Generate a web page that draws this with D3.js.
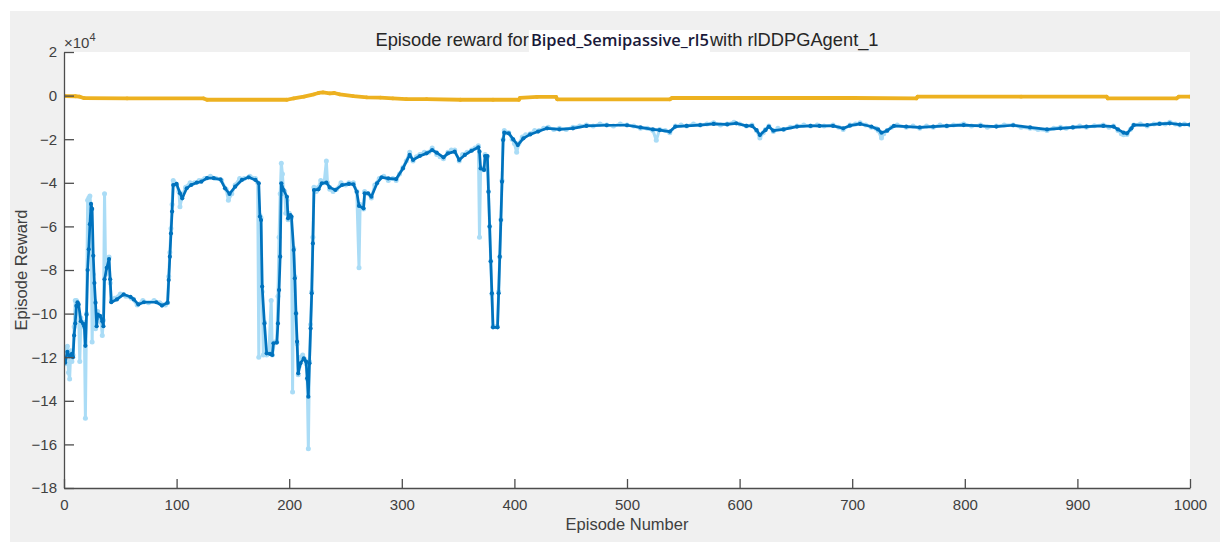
<!DOCTYPE html>
<html>
<head>
<meta charset="utf-8">
<script src="https://cdn.jsdelivr.net/npm/d3@7/dist/d3.min.js"></script>
<style>
  html, body { margin: 0; padding: 0; background: #ffffff; }
  svg { display: block; }
  text { font-family: "Liberation Sans", Arial, Helvetica, sans-serif; }
</style>
</head>
<body>
<svg id="chart" width="1220" height="542"></svg>
<script>
// Training progress of the DDPG agent (episode number vs. reward)

// Per-episode reward
const rewardEpisodes = [1,2,3,4,5,6,7,8,9,10,11,12,13,14,15,16,17,18,19,20,21,22,23,24,25,26,27,28,29,30,32,33,34,35,36,37,38,39,40,41,42,45,50,55,60,65,70,75,80,85,90,92,93,94,95,96,97,98,100,102,103,105,108,112,116,120,125,130,135,140,144,146,149,152,156,160,165,170,172,173,174,175,176,177,178,179,180,182,184,185,187,189,190,191,192,193,194,195,196,197,198,199,200,201,202,203,204,205,206,207,208,209,210,212,214,215,216,217,218,219,220,221,222,224,226,228,231,233,234,236,239,242,246,250,253,257,260,262,263,266,267,270,273,276,280,284,288,292,295,298,301,304,307,310,313,316,320,324,327,331,334,337,341,344,347,351,354,358,362,365,368,369,370,372,373,374,376,377,378,379,380,381,383,385,386,387,388,389,390,391,393,395,398,400,402,404,407,410,414,418,422,426,430,435,440,446,452,458,464,470,476,482,488,494,500,506,512,518,523,526,529,534,538,543,548,553,559,565,571,577,583,589,595,600,606,611,615,618,621,623,626,630,634,639,645,651,657,663,669,675,683,688,692,698,703,707,712,717,721,723,726,728,731,735,740,748,754,760,766,772,778,784,790,799,806,814,820,828,835,843,850,858,865,873,879,885,890,896,902,908,915,923,928,932,936,939,941,944,947,950,956,962,968,973,978,982,987,991,995,1000];
const rewardValues = [-123000,-116000,-115000,-127000,-130000,-117000,-122000,-119000,-106000,-94000,-94000,-95000,-100000,-122000,-102000,-105000,-106000,-104000,-148000,-100000,-48000,-47000,-46000,-52000,-113000,-82000,-94000,-107000,-101000,-99000,-102000,-104000,-110000,-103000,-45000,-82000,-76000,-78000,-74000,-86000,-94000,-93000,-91000,-92000,-93000,-96000,-94000,-95000,-94000,-95000,-96000,-95000,-83000,-72000,-61000,-50000,-39000,-40000,-41000,-44000,-51000,-46000,-42000,-40000,-40000,-39000,-38000,-37000,-38000,-39000,-43000,-48000,-45000,-41000,-38000,-38000,-37000,-38000,-40000,-120000,-55000,-56000,-90000,-119000,-104000,-118000,-119000,-118000,-94000,-119000,-113000,-113000,-92000,-65000,-45000,-31000,-36000,-45000,-44000,-54000,-48000,-57000,-54000,-56000,-56000,-136000,-70000,-83000,-100000,-114000,-128000,-124000,-120000,-119000,-121000,-123000,-130000,-162000,-122000,-105000,-90000,-65000,-42000,-44000,-42000,-39000,-40000,-30000,-40000,-43000,-44000,-43000,-40000,-41000,-40000,-40000,-44000,-79000,-50000,-52000,-44000,-45000,-47000,-41000,-38000,-37000,-39000,-38000,-39000,-36000,-33000,-30000,-26000,-30000,-28000,-27000,-26000,-26000,-24000,-27000,-28000,-29000,-26000,-25000,-25000,-30000,-27000,-26000,-25000,-24000,-23000,-65000,-33000,-34000,-34000,-27000,-28000,-44000,-60000,-76000,-91000,-106000,-106000,-106000,-90000,-74000,-57000,-39000,-20000,-16000,-17000,-17000,-20000,-22000,-26000,-22000,-19000,-18000,-17500,-16000,-16000,-15000,-14500,-15500,-15000,-15500,-14500,-14000,-13500,-14000,-13000,-13500,-14000,-13000,-13500,-14000,-15000,-15000,-16000,-20500,-15500,-16000,-17000,-14000,-13500,-14000,-13000,-13500,-13000,-12500,-13500,-13000,-12200,-13000,-14000,-13500,-16000,-19500,-17000,-15500,-14000,-16500,-15000,-15500,-14500,-14000,-13500,-14000,-13500,-14000,-13500,-14500,-15500,-13500,-13000,-12500,-13500,-14500,-15000,-16000,-19500,-17500,-16000,-14500,-13500,-14500,-14000,-15000,-14000,-14500,-13500,-14000,-13500,-13000,-14000,-13500,-14500,-14000,-13500,-13500,-14500,-15000,-15500,-16000,-15000,-14500,-15000,-14500,-14000,-14500,-13800,-13500,-14500,-14000,-16000,-17500,-18000,-17800,-15500,-13500,-13000,-14000,-13000,-12800,-13000,-12200,-13000,-13500,-13000,-13500];

// Running average reward
const averageEpisodes = [1,3,5,7,8,9,10,11,12,13,15,17,18,19,20,21,22,23,24,25,26,27,28,29,30,32,34,35,36,38,40,41,42,47,53,59,62,66,71,82,87,92,93,94,95,96,97,100,103,105,109,113,118,122,127,133,139,143,147,152,158,164,170,173,174,175,176,178,180,183,185,186,189,190,191,192,193,195,198,199,201,202,204,205,206,207,208,210,213,215,216,217,218,219,220,221,222,226,229,233,236,241,247,253,257,260,262,266,267,270,273,278,282,288,295,301,307,310,316,322,327,331,337,341,347,351,356,362,368,369,370,373,374,376,377,378,379,380,381,385,386,387,388,389,390,391,395,399,403,408,414,421,429,440,452,464,482,500,512,523,529,538,543,553,565,577,589,597,606,611,615,618,623,626,630,639,651,663,671,683,692,698,707,717,723,726,731,737,748,760,772,784,799,814,828,843,858,873,885,896,908,923,932,936,941,944,948,950,962,973,982,991,1000];
const averageValues = [-122500,-117500,-119500,-118500,-120000,-110000,-104500,-96500,-94800,-95800,-103500,-104600,-105800,-114800,-100500,-80000,-70500,-59000,-49700,-52000,-73500,-86000,-95000,-105800,-100500,-101000,-103500,-105800,-84300,-79000,-75000,-84300,-94800,-93500,-91200,-92300,-93500,-95800,-94800,-94800,-96300,-95000,-84600,-73900,-63200,-53200,-41000,-40500,-44800,-47100,-42500,-41000,-39900,-39500,-37900,-37900,-38400,-42500,-45100,-41800,-38700,-37500,-38700,-40200,-55500,-57100,-87600,-104500,-118200,-118500,-119000,-113600,-113300,-104500,-89200,-73900,-40200,-43300,-46400,-56300,-54800,-55500,-70800,-83800,-99900,-112900,-127400,-122800,-120500,-122000,-129700,-138100,-122800,-106800,-90700,-67800,-43300,-43000,-40200,-39900,-42100,-43300,-41000,-40500,-40700,-44100,-50600,-51700,-44800,-44800,-46400,-40200,-37500,-38000,-38300,-33400,-27200,-29500,-27700,-26500,-25000,-26200,-28300,-26500,-25700,-29500,-27200,-25300,-23700,-25700,-33400,-34100,-27700,-27700,-44100,-60000,-76000,-90700,-106300,-106300,-90700,-73900,-57100,-39500,-20400,-17000,-17300,-20100,-22700,-19600,-17800,-16500,-15000,-15500,-15000,-13900,-13600,-13600,-14600,-15500,-15800,-16500,-14200,-13900,-13500,-13000,-13200,-12700,-13900,-13900,-15800,-18100,-15800,-14200,-16100,-15500,-14200,-13900,-13900,-13900,-15000,-13800,-13000,-14200,-15500,-17000,-16100,-13900,-14200,-14600,-14200,-13900,-13500,-13900,-14200,-13600,-14600,-15500,-15000,-14600,-14200,-13900,-14200,-15500,-17000,-17300,-15000,-13500,-13500,-13000,-12700,-13300,-13300];

// Episode Q0 estimate
const q0Episodes = [1,10,14,18,56,124,127,198,204,213,222,226,230,236,240,245,257,269,281,292,304,322,352,381,404,405,420,437,438,538,540,600,700,757,758,850,926,927,988,990,1000];
const q0Values = [-200,-300,-500,-1200,-1300,-1300,-1900,-1900,-1300,-500,600,1200,1500,1000,1200,600,-200,-800,-900,-1300,-1600,-1600,-1900,-1900,-1900,-1000,-600,-600,-1700,-1700,-1100,-1100,-1100,-1300,-500,-500,-500,-1300,-1300,-500,-500];

// Axis ticks
const xTicks = [0,100,200,300,400,500,600,700,800,900,1000];
const yTicks = [-180000,-160000,-140000,-120000,-100000,-80000,-60000,-40000,-20000,0,20000];

const svg = d3.select("#chart");
const W = 1220, H = 542;
const plot = { left: 64, right: 1190, top: 52, bottom: 488 };

// Figure background
svg.append("rect").attr("x", 0).attr("y", 0).attr("width", W).attr("height", H).attr("fill", "#ffffff");
svg.append("rect").attr("x", 10).attr("y", 11).attr("width", W - 10).attr("height", H - 11).attr("fill", "#f0f0f0");
svg.append("rect")
  .attr("x", plot.left).attr("y", plot.top)
  .attr("width", plot.right - plot.left).attr("height", plot.bottom - plot.top)
  .attr("fill", "#ffffff");

const x = d3.scaleLinear().domain([0, 1000]).range([plot.left, plot.right]);
const y = d3.scaleLinear().domain([-180000, 20000]).range([plot.bottom, plot.top]);

const axisColor = "#4d4d4d";
const labelColor = "#404040";

// Data layer, clipped to the axes
svg.append("clipPath").attr("id", "plotClip")
  .append("rect")
  .attr("x", plot.left).attr("y", plot.top - 2)
  .attr("width", plot.right - plot.left).attr("height", plot.bottom - plot.top + 2);
const data = svg.append("g").attr("clip-path", "url(#plotClip)");

function drawSeries(eps, vals, color, width, r) {
  const pts = eps.map((e, i) => [e, vals[i]]);
  const line = d3.line().x(d => x(d[0])).y(d => y(d[1]));
  const g = data.append("g");
  g.append("path").datum(pts)
    .attr("d", line).attr("fill", "none")
    .attr("stroke", color).attr("stroke-width", width)
    .attr("stroke-linejoin", "round").attr("stroke-linecap", "round");
  g.selectAll("circle").data(pts).join("circle")
    .attr("cx", d => x(d[0])).attr("cy", d => y(d[1]))
    .attr("r", r).attr("fill", color);
}

drawSeries(rewardEpisodes, rewardValues, "#aadcf6", 3, 2.5);
drawSeries(q0Episodes, q0Values, "#EDB120", 3.8, 1.9);
drawSeries(averageEpisodes, averageValues, "#0072BD", 2.7, 2.1);

// Axes (box off, ticks pointing inward)
const xAxis = d3.axisBottom(x).tickValues(xTicks).tickSizeInner(-9).tickSizeOuter(0).tickPadding(11)
  .tickFormat(d3.format("d"));
const gx = svg.append("g").attr("transform", `translate(0,${plot.bottom})`).call(xAxis);

const yAxis = d3.axisLeft(y).tickValues(yTicks).tickSizeInner(-10).tickSizeOuter(0).tickPadding(7)
  .tickFormat(d => d3.format("d")(d / 10000));
const gy = svg.append("g").attr("transform", `translate(${plot.left},0)`).call(yAxis);

[gx, gy].forEach(g => {
  g.select(".domain").attr("stroke", axisColor).attr("stroke-width", 1.3);
  g.selectAll(".tick line").attr("stroke", axisColor).attr("stroke-width", 1.3);
  g.selectAll(".tick text").attr("fill", labelColor)
    .style("font-family", "'Liberation Sans', Arial, sans-serif").style("font-size", "15px");
});

// Exponent label
const expo = svg.append("text").attr("x", 64).attr("y", 48)
  .attr("fill", labelColor).style("font-size", "15px");
expo.append("tspan").text("×10");
expo.append("tspan").attr("dy", -7).style("font-size", "11px").text("4");

// Axis titles
svg.append("text")
  .attr("x", (plot.left + plot.right) / 2).attr("y", 530)
  .attr("text-anchor", "middle").attr("fill", labelColor)
  .style("font-size", "16.5px").text("Episode Number");
svg.append("text")
  .attr("transform", `translate(27,${(plot.top + plot.bottom) / 2}) rotate(-90)`)
  .attr("text-anchor", "middle").attr("fill", labelColor)
  .style("font-size", "16.5px").text("Episode Reward");

// Title with highlighted model name
const titleG = svg.append("g");
const titleY = 46;
const t1 = titleG.append("text").attr("y", titleY).attr("fill", "#262626")
  .style("font-size", "18.3px").text("Episode reward for ");
const t2 = titleG.append("text").attr("y", titleY).attr("fill", "#1a1a3a")
  .style("font-family", "'Open Sans', 'Noto Sans', sans-serif")
  .style("font-size", "16.5px").style("font-weight", "600")
  .attr("textLength", 178).attr("lengthAdjust", "spacingAndGlyphs")
  .text("Biped_Semipassive_rl5");
const t3 = titleG.append("text").attr("y", titleY).attr("fill", "#262626")
  .style("font-size", "18.3px").text("with rlDDPGAgent_1");

const w1 = t1.node().getComputedTextLength();
const w2 = 178;
const w3 = t3.node().getComputedTextLength();
const total = w1 + 2 + w2 + 1 + w3;
const startX = (plot.left + plot.right) / 2 - total / 2;
t1.attr("x", startX);
const x2 = startX + w1 + 2;
titleG.insert("rect", "text:nth-of-type(2)")
  .attr("x", x2 - 2).attr("y", 30).attr("width", w2 + 3).attr("height", plot.top - 30)
  .attr("fill", "#ffffff");
t2.attr("x", x2);
t3.attr("x", x2 + w2 + 1);
</script>
</body>
</html>
